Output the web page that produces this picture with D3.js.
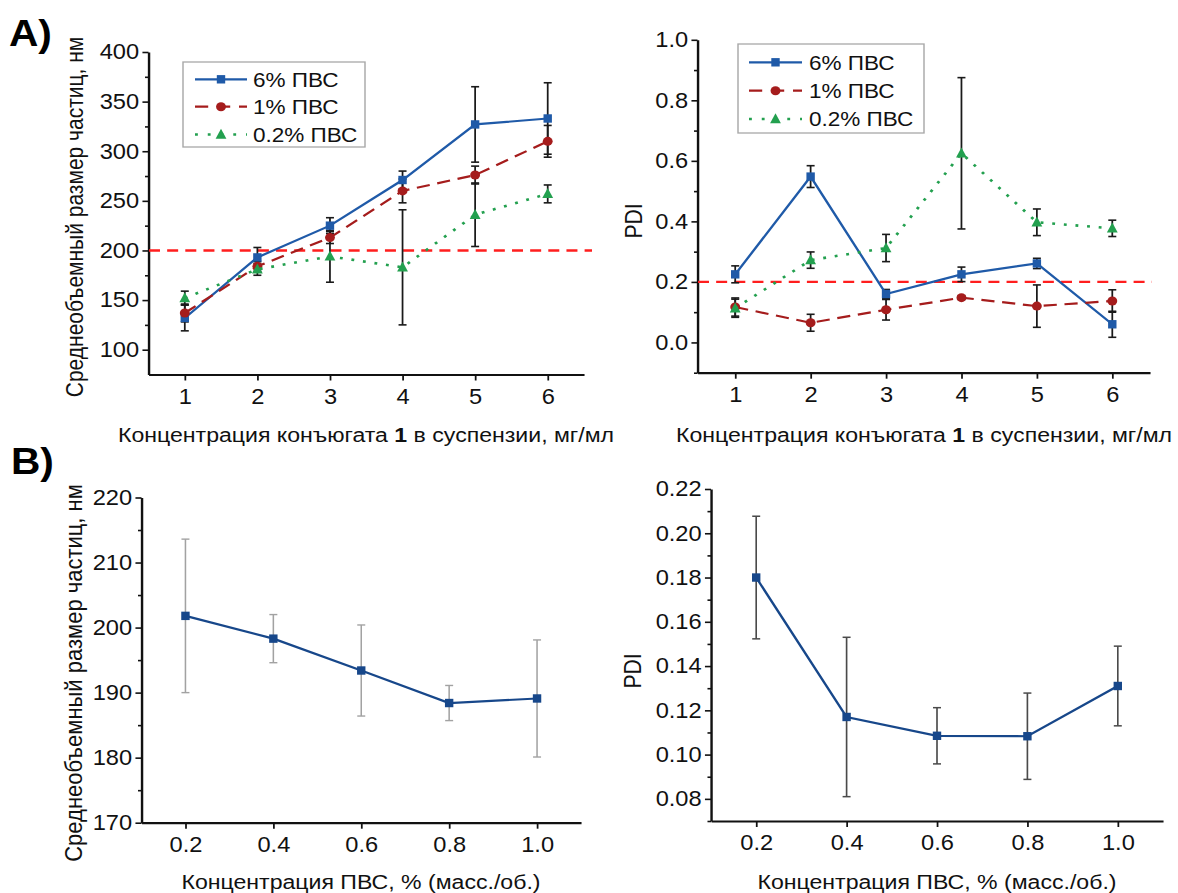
<!DOCTYPE html>
<html>
<head>
<meta charset="utf-8">
<script src="https://cdn.jsdelivr.net/npm/d3@7"></script>
<style>
  body { margin: 0; background: #fff; }
  svg { display: block; }
</style>
</head>
<body>
<svg id="fig" width="1178" height="893"></svg>
<script>
// ---- Panel A: particle size and PDI vs. conjugate concentration ----
const conjConc = [1, 2, 3, 4, 5, 6];
const seriesNames = ["6% ПВС", "1% ПВС", "0.2% ПВС"];

const size6    = [132, 193, 225, 271, 327, 333];
const size6Err = [13, 10, 8, 9, 38, 36];
const size1    = [137, 184, 213, 260, 276, 310];
const size1Err = [9, 5, 6, 12, 9, 16];
const size02    = [152, 181, 194, 183, 236, 257];
const size02Err = [7, 6, 26, 58, 32, 9];

const pdi6    = [0.225, 0.548, 0.160, 0.225, 0.261, 0.060];
const pdi6Err = [0.028, 0.036, 0.015, 0.024, 0.017, 0.043];
const pdi1    = [0.117, 0.065, 0.108, 0.148, 0.120, 0.137];
const pdi1Err = [0.030, 0.028, 0.034, 0.006, 0.070, 0.037];
const pdi02    = [0.113, 0.272, 0.312, 0.625, 0.397, 0.377];
const pdi02Err = [0.030, 0.027, 0.045, 0.250, 0.044, 0.027];

const sizeLimit = 200;
const pdiLimit = 0.2;

// ---- Panel B: particle size and PDI vs. PVA concentration ----
const pvaConc = [0.2, 0.4, 0.6, 0.8, 1.0];
const sizeB    = [201.8, 198.3, 193.4, 188.4, 189.1];
const sizeBErr = [11.8, 3.7, 7.0, 2.7, 9.0];
const pdiB    = [0.180, 0.117, 0.1085, 0.1083, 0.131];
const pdiBErr = [0.0277, 0.036, 0.0127, 0.0195, 0.018];

// ---- Tick values ----
const concTicks = [1, 2, 3, 4, 5, 6];
const pvaTicks = [0.2, 0.4, 0.6, 0.8, 1.0];
const sizeTicksA = [100, 150, 200, 250, 300, 350, 400];
const sizeMinorA = [125, 175, 225, 275, 325, 375];
const pdiTicksA = [0.0, 0.2, 0.4, 0.6, 0.8, 1.0];
const pdiMinorA = [-0.1, 0.1, 0.3, 0.5, 0.7, 0.9];
const sizeTicksB = [170, 180, 190, 200, 210, 220];
const sizeMinorB = [175, 185, 195, 205, 215];
const pdiTicksB = [0.08, 0.10, 0.12, 0.14, 0.16, 0.18, 0.20, 0.22];
const pdiMinorB = [0.07, 0.09, 0.11, 0.13, 0.15, 0.17, 0.19, 0.21];

// ---- Drawing ----
const FONT = "Arial, 'Liberation Sans', Helvetica, sans-serif";
const SX = 1.1;                 // figure is slightly wider than tall in its type
const X = v => v / SX;          // screen x -> inner x
const TICK_FONT = 21.5;

const svg = d3.select("#fig");
svg.append("rect").attr("width", 1178).attr("height", 893).attr("fill", "#fff");
const root = svg.append("g").attr("transform", `scale(${SX},1)`);

const COLORS = {
  blue: "#1f5aa8",
  red: "#a51c1c",
  green: "#23a04f",
  limit: "#ff1e1e",
  navy: "#17478a"
};

function styleAxis(sel) {
  sel.select(".domain").attr("stroke", "#111").attr("stroke-width", 2.2);
  sel.selectAll(".tick line").attr("stroke", "#111").attr("stroke-width", 1.6);
  sel.selectAll(".tick text")
    .attr("font-family", FONT).attr("font-size", TICK_FONT).attr("fill", "#111");
}

function makePanel(cfg) {
  const x = d3.scaleLinear().domain(cfg.xDomain).range([X(cfg.left), X(cfg.right)]);
  const y = d3.scaleLinear().domain(cfg.yDomain).range([cfg.bottom, cfg.top]);
  const g = root.append("g");

  // minor y ticks
  g.append("g").attr("transform", `translate(${X(cfg.left)},0)`)
    .call(d3.axisLeft(y).tickValues(cfg.yMinor).tickSize(3.2).tickSizeOuter(0).tickFormat(""))
    .call(s => { s.select(".domain").remove(); s.selectAll(".tick line").attr("stroke", "#111").attr("stroke-width", 1.6); });

  // major y axis
  g.append("g").attr("transform", `translate(${X(cfg.left)},0)`)
    .call(d3.axisLeft(y).tickValues(cfg.yTicks).tickSize(5.5).tickSizeOuter(0)
      .tickPadding(3).tickFormat(cfg.yFmt))
    .call(styleAxis);

  // x axis
  g.append("g").attr("transform", `translate(0,${cfg.bottom})`)
    .call(d3.axisBottom(x).tickValues(cfg.xTicks).tickSize(6).tickSizeOuter(0)
      .tickPadding(8).tickFormat(cfg.xFmt))
    .call(styleAxis);

  // axis titles
  const xt = g.append("text")
    .attr("x", X(cfg.xTitlePos[0])).attr("y", cfg.xTitlePos[1])
    .attr("text-anchor", "middle")
    .attr("font-family", FONT).attr("font-size", 21).attr("fill", "#111");
  cfg.xTitle.forEach(part => {
    xt.append("tspan").text(part.t).attr("font-weight", part.bold ? "bold" : null);
  });

  g.append("text")
    .attr("transform", `translate(${X(cfg.yTitlePos[0])},${cfg.yTitlePos[1]}) rotate(-90)`)
    .attr("text-anchor", "middle").attr("dominant-baseline", "central")
    .attr("font-family", FONT).attr("font-size", cfg.yTitleSize || 21).attr("fill", "#111")
    .text(cfg.yTitle);

  return { g, x, y };
}

function drawErrorBars(p, xs, ys, es, color, width) {
  const cap = 4 / SX;
  const eg = p.g.append("g").attr("stroke", color).attr("stroke-width", width).attr("fill", "none");
  xs.forEach((xv, i) => {
    const cx = p.x(xv), y0 = p.y(ys[i] - es[i]), y1 = p.y(ys[i] + es[i]);
    eg.append("line").attr("x1", cx).attr("x2", cx).attr("y1", y0).attr("y2", y1);
    eg.append("line").attr("x1", cx - cap).attr("x2", cx + cap).attr("y1", y0).attr("y2", y0);
    eg.append("line").attr("x1", cx - cap).attr("x2", cx + cap).attr("y1", y1).attr("y2", y1);
  });
}

function marker(sel, shape, cx, cy, color) {
  if (shape === "square") {
    sel.append("rect").attr("x", cx - 4.2 / SX).attr("y", cy - 4.2)
      .attr("width", 8.4 / SX).attr("height", 8.4).attr("fill", color);
  } else if (shape === "circle") {
    sel.append("circle").attr("cx", cx).attr("cy", cy).attr("r", 4.5).attr("fill", color);
  } else {
    const w = 5.4 / SX;
    sel.append("path")
      .attr("d", `M${cx},${cy - 5.8}L${cx + w},${cy + 4.2}L${cx - w},${cy + 4.2}Z`)
      .attr("fill", color);
  }
}

function drawSeries(p, xs, ys, style) {
  const line = d3.line().x((d, i) => p.x(xs[i])).y(d => p.y(d));
  p.g.append("path").datum(ys)
    .attr("d", line).attr("fill", "none")
    .attr("stroke", style.color).attr("stroke-width", style.width)
    .attr("stroke-dasharray", style.dash || null)
    .attr("stroke-linecap", style.cap || "butt");
  const mg = p.g.append("g");
  ys.forEach((v, i) => marker(mg, style.shape, p.x(xs[i]), p.y(v), style.color));
}

function drawLimit(p, value, left, right) {
  p.g.append("line")
    .attr("x1", X(left)).attr("x2", X(right))
    .attr("y1", p.y(value)).attr("y2", p.y(value))
    .attr("stroke", COLORS.limit).attr("stroke-width", 2.4)
    .attr("stroke-dasharray", "10,6.5");
}

function drawLegend(p, box, rows, styles) {
  const lg = p.g.append("g");
  lg.append("rect")
    .attr("x", X(box[0])).attr("y", box[1])
    .attr("width", X(box[2] - box[0])).attr("height", box[3] - box[1])
    .attr("fill", "#fff").attr("stroke", "#a8a8a8").attr("stroke-width", 1.3);
  rows.ys.forEach((ry, i) => {
    const st = styles[i];
    lg.append("line")
      .attr("x1", X(rows.lineX[0])).attr("x2", X(rows.lineX[1]))
      .attr("y1", ry).attr("y2", ry)
      .attr("stroke", st.color).attr("stroke-width", st.width)
      .attr("stroke-dasharray", st.legendDash || st.dash || null)
      .attr("stroke-linecap", st.cap || "butt");
    marker(lg, st.shape, X((rows.lineX[0] + rows.lineX[1]) / 2), ry, st.color);
    lg.append("text")
      .attr("x", X(rows.textX)).attr("y", ry + 7.4)
      .attr("font-family", FONT).attr("font-size", 20.5).attr("fill", "#111")
      .text(seriesNames[i]);
  });
}

const seriesStyles = [
  { color: COLORS.blue, width: 2.2, shape: "square" },
  { color: COLORS.red, width: 2.2, shape: "circle", dash: "12,7", legendDash: "12,8" },
  { color: COLORS.green, width: 2.6, shape: "triangle", dash: "2.6,8", legendDash: "2.6,9", cap: "butt" }
];

const concTitle = [{ t: "Концентрация конъюгата " }, { t: "1", bold: true }, { t: " в суспензии, мг/мл" }];
const pvaTitle = [{ t: "Концентрация ПВС, % (масс./об.)" }];

// A, left: mean volume particle size
const pA1 = makePanel({
  xDomain: [0.5, 6.5], left: 148.5, right: 584,
  yDomain: [75, 400], bottom: 374.5, top: 52,
  xTicks: concTicks, yTicks: sizeTicksA, yMinor: sizeMinorA,
  xFmt: d3.format("d"), yFmt: d3.format("d"),
  xTitle: concTitle, xTitlePos: [366, 442],
  yTitle: "Среднеобъемный размер частиц, нм", yTitlePos: [75, 217]
});
drawLimit(pA1, sizeLimit, 149, 592);
[[size6, size6Err], [size1, size1Err], [size02, size02Err]].forEach(([v, e]) =>
  drawErrorBars(pA1, conjConc, v, e, "#1a1a1a", 1.6));
drawSeries(pA1, conjConc, size6, seriesStyles[0]);
drawSeries(pA1, conjConc, size1, seriesStyles[1]);
drawSeries(pA1, conjConc, size02, seriesStyles[2]);
drawLegend(pA1, [183, 62, 365, 147], { ys: [79.3, 106.7, 134.5], lineX: [195, 247], textX: 253 }, seriesStyles);

// A, right: PDI
const pA2 = makePanel({
  xDomain: [0.5, 6.5], left: 697.5, right: 1150,
  yDomain: [-0.1, 1.0], bottom: 372.7, top: 39.8,
  xTicks: concTicks, yTicks: pdiTicksA, yMinor: pdiMinorA,
  xFmt: d3.format("d"), yFmt: d3.format(".1f"),
  xTitle: concTitle, xTitlePos: [924, 442],
  yTitle: "PDI", yTitlePos: [634, 221]
});
drawLimit(pA2, pdiLimit, 698, 1152);
[[pdi6, pdi6Err], [pdi1, pdi1Err], [pdi02, pdi02Err]].forEach(([v, e]) =>
  drawErrorBars(pA2, conjConc, v, e, "#1a1a1a", 1.6));
drawSeries(pA2, conjConc, pdi6, seriesStyles[0]);
drawSeries(pA2, conjConc, pdi1, seriesStyles[1]);
drawSeries(pA2, conjConc, pdi02, seriesStyles[2]);
drawLegend(pA2, [738, 44, 924, 133], { ys: [62.3, 90.7, 119], lineX: [749, 802], textX: 809 }, seriesStyles);

// B, left: particle size vs PVA
const pB1 = makePanel({
  xDomain: [0.1, 1.1], left: 141.5, right: 581,
  yDomain: [170, 220], bottom: 822.7, top: 497.5,
  xTicks: pvaTicks, yTicks: sizeTicksB, yMinor: sizeMinorB,
  xFmt: d3.format(".1f"), yFmt: d3.format("d"),
  xTitle: pvaTitle, xTitlePos: [361, 889],
  yTitle: "Среднеобъемный размер частиц, нм", yTitlePos: [74, 673], yTitleSize: 22
});
drawErrorBars(pB1, pvaConc, sizeB, sizeBErr, "#a2a2a2", 1.4);
drawSeries(pB1, pvaConc, sizeB, { color: COLORS.navy, width: 2.2, shape: "square" });

// B, right: PDI vs PVA
const pB2 = makePanel({
  xDomain: [0.1, 1.1], left: 711, right: 1163,
  yDomain: [0.07, 0.22], bottom: 821, top: 489,
  xTicks: pvaTicks, yTicks: pdiTicksB, yMinor: pdiMinorB,
  xFmt: d3.format(".1f"), yFmt: d3.format(".2f"),
  xTitle: pvaTitle, xTitlePos: [937, 889],
  yTitle: "PDI", yTitlePos: [633, 671]
});
drawErrorBars(pB2, pvaConc, pdiB, pdiBErr, "#4a4a4a", 1.5);
drawSeries(pB2, pvaConc, pdiB, { color: COLORS.navy, width: 2.2, shape: "square" });

// Panel letters
root.append("text").attr("x", X(9)).attr("y", 46)
  .attr("font-family", FONT).attr("font-size", 37).attr("font-weight", "bold").attr("fill", "#000")
  .text("A)");
root.append("text").attr("x", X(11)).attr("y", 474)
  .attr("font-family", FONT).attr("font-size", 37).attr("font-weight", "bold").attr("fill", "#000")
  .text("B)");
</script>
</body>
</html>
